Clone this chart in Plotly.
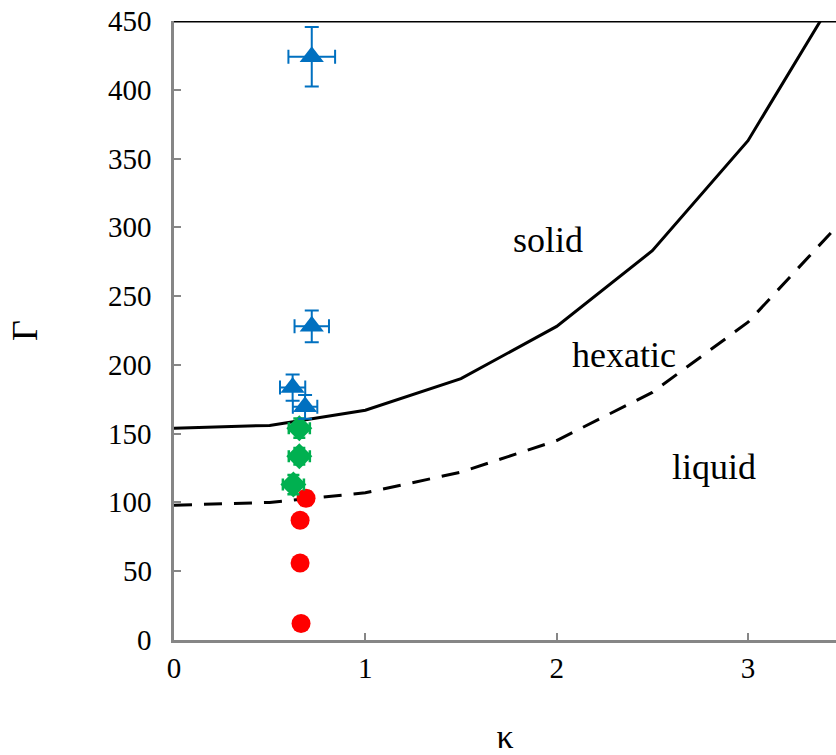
import plotly.graph_objects as go

# Phase boundary curves
kappa_line = [0, 0.5, 1, 1.5, 2, 2.5, 3, 3.5]
gamma_solid = [154, 156, 167, 190, 228, 283, 363, 478]
gamma_dashed = [98, 100, 107, 122, 145, 180, 231, 306]

# Liquid points (red circles)
liq_k = [0.664, 0.659, 0.659, 0.69]
liq_g = [12, 56, 87, 103]
liq_ek = [0.02, 0.02, 0.03, 0.03]
liq_eg = [2, 2, 4, 5]

# Hexatic points (green diamonds)
hex_k = [0.624, 0.655, 0.655]
hex_g = [113, 133.5, 154]
hex_ek = [0.055, 0.055, 0.055]
hex_eg = [7, 6, 7]

# Solid points (blue triangles)
sol_k = [0.62, 0.685, 0.72, 0.72]
sol_g = [183.5, 169.5, 228, 424]
sol_ek = [0.066, 0.064, 0.09, 0.122]
sol_eg = [9.5, 8.7, 11.5, 21.6]

labels = ["solid", "hexatic", "liquid"]
label_k = [1.955, 2.35, 2.82]
label_g = [291, 207, 126]

x_ticks = [0, 1, 2, 3]
y_ticks = [0, 50, 100, 150, 200, 250, 300, 350, 400, 450]

FONT = "Liberation Serif, Times New Roman, serif"

fig = go.Figure()

fig.add_trace(go.Scatter(x=kappa_line, y=gamma_solid, mode="lines",
                         line=dict(color="black", width=3), showlegend=False))
fig.add_trace(go.Scatter(x=kappa_line, y=gamma_dashed, mode="lines",
                         line=dict(color="black", width=3, dash="18px,12px"),
                         showlegend=False))

fig.add_trace(go.Scatter(
    x=liq_k, y=liq_g, mode="markers",
    marker=dict(symbol="circle", size=19, color="#FF0000"),
    error_x=dict(type="data", array=liq_ek, color="#FF0000", thickness=2, width=6),
    error_y=dict(type="data", array=liq_eg, color="#FF0000", thickness=2, width=6),
    showlegend=False))

fig.add_trace(go.Scatter(
    x=hex_k, y=hex_g, mode="markers",
    marker=dict(symbol="diamond", size=20, color="#00B050"),
    error_x=dict(type="data", array=hex_ek, color="#00B050", thickness=2.5, width=6),
    error_y=dict(type="data", array=hex_eg, color="#00B050", thickness=2.5, width=6),
    showlegend=False))

fig.add_trace(go.Scatter(
    x=sol_k, y=sol_g, mode="markers",
    marker=dict(symbol="triangle-up", size=21, color="#0070C0"),
    error_x=dict(type="data", array=sol_ek, color="#0070C0", thickness=2, width=7),
    error_y=dict(type="data", array=sol_eg, color="#0070C0", thickness=2, width=7),
    showlegend=False))

for t, k, g in zip(labels, label_k, label_g):
    fig.add_annotation(x=k, y=g, text=t, showarrow=False,
                       font=dict(family=FONT, size=36, color="black"))

# y tick labels placed with a wider gap from the axis, as in the reference
for v in y_ticks:
    fig.add_annotation(xref="paper", x=0, yref="y", y=v, text=str(v),
                       showarrow=False, xanchor="right", yanchor="middle",
                       xshift=-20, font=dict(family=FONT, size=29, color="black"))

fig.add_shape(type="line", xref="paper", yref="y", x0=0, x1=1, y0=450, y1=450,
              line=dict(color="black", width=3))

fig.update_layout(
    width=836, height=755,
    margin=dict(l=174, r=0, t=21, b=115),
    paper_bgcolor="white", plot_bgcolor="white",
    font=dict(family=FONT, size=29, color="black"),
    xaxis=dict(range=[0, 3.46], tickvals=x_ticks, ticks="inside", ticklen=7,
               tickcolor="#868686", tickwidth=2, showline=True, linecolor="#868686",
               linewidth=2.5, showgrid=False, zeroline=False, automargin=False,
               title=dict(text="κ", font=dict(family=FONT, size=34), standoff=57),
               tickfont=dict(family=FONT, size=29)),
    yaxis=dict(range=[0, 450], tickvals=y_ticks, showticklabels=False, ticks="inside",
               ticklen=7, tickcolor="#868686", tickwidth=2, showline=True,
               linecolor="#868686", linewidth=2.5, showgrid=False, zeroline=False,
               automargin=False,
               title=dict(text="Γ", font=dict(family=FONT, size=36), standoff=123)),
)

fig.write_html("out.html")
